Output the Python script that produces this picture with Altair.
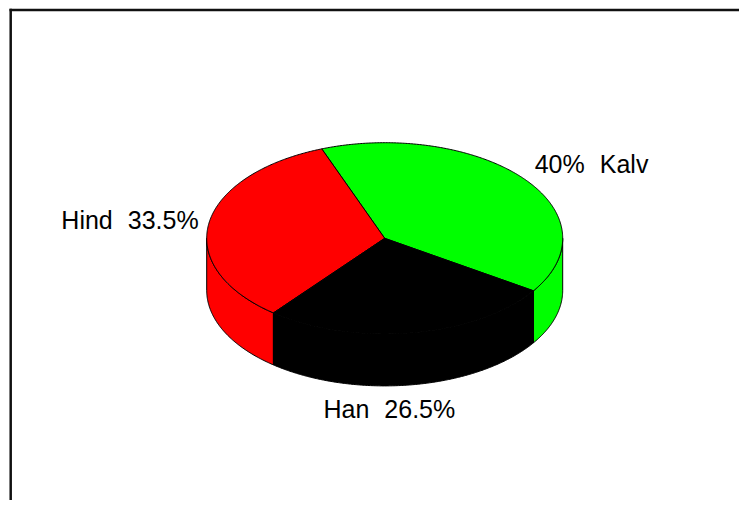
import math
import altair as alt
import pandas as pd

# ---- data ----
labels = ["Kalv", "Hind", "Han"]
percents = [40.0, 33.5, 26.5]
pct_text = ["40%", "33.5%", "26.5%"]
colors = ["#00ff00", "#ff0000", "#000000"]

# ---- layout (pixels inside the plot area) ----
W, H = 731, 492
CX, CY, RX, RY, DEPTH = 376.7, 230.3, 178.0, 95.6, 52.0
START = -33.3          # angle (deg, counter-clockwise) where the first slice starts
FONT = "Liberation Sans"
FS = 25
GAP = 15
CHAR_W = {c: 0.556 for c in "0123456789"}
CHAR_W.update({".": 0.278, "%": 0.889})


def ex(t):
    return CX + RX * math.cos(math.radians(t))


def ey(t):
    return CY - RY * math.sin(math.radians(t))


def arc(a, b, step=0.5):
    n = max(2, int(abs(b - a) / step) + 1)
    return [a + (b - a) * k / (n - 1) for k in range(n)]


wall_rows, top_rows, pct_rows, name_rows = [], [], [], []
t0 = START
for i, (lab, p, ptxt) in enumerate(zip(labels, percents, pct_text)):
    t1 = t0 + 360.0 * p / 100.0
    # top face
    pts = [(CX, CY)] + [(ex(t), ey(t)) for t in arc(t0, t1)] + [(CX, CY)]
    for j, (x, y) in enumerate(pts):
        top_rows.append(dict(poly=f"top{i}", slice=lab, i=j, x=x, y=y))
    # side walls (front half only)
    brk = {t0, t1}
    k = math.floor(t0 / 180.0)
    while k * 180.0 < t1:
        if t0 < k * 180.0 < t1:
            brk.add(k * 180.0)
        k += 1
    brk = sorted(brk)
    for s, (a, b) in enumerate(zip(brk[:-1], brk[1:])):
        if math.sin(math.radians((a + b) / 2.0)) < 0:
            ts = arc(a, b)
            wp = [(ex(t), ey(t)) for t in ts] + [(ex(t), ey(t) + DEPTH) for t in reversed(ts)]
            wp.append(wp[0])
            for j, (x, y) in enumerate(wp):
                wall_rows.append(dict(poly=f"wall{i}_{s}", slice=lab, i=j, x=x, y=y))
    # labels
    m = math.radians((t0 + t1) / 2.0)
    lx = CX + 1.26 * RX * math.cos(m)
    ly = CY - 1.25 * RY * math.sin(m) + (DEPTH if math.sin(m) < 0 else 0.0)
    pct_rows.append(dict(txt=ptxt, x=lx, y=ly))
    half = 0.5 * FS * sum(CHAR_W.get(c, 0.556) for c in ptxt)
    if math.cos(m) > 0.3:
        name_rows.append(dict(txt=lab, x=lx + half + GAP, y=ly, side="right"))
    else:
        name_rows.append(dict(txt=lab, x=lx - half - GAP, y=ly, side="left"))
    t0 = t1

wall_df = pd.DataFrame(wall_rows)
top_df = pd.DataFrame(top_rows)
pct_df = pd.DataFrame(pct_rows)
name_df = pd.DataFrame(name_rows)

xs = alt.X("x:Q", scale=alt.Scale(domain=[0, W], nice=False, zero=False), axis=None)
ys = alt.Y("y:Q", scale=alt.Scale(domain=[0, H], nice=False, zero=False, reverse=True), axis=None)
fill = alt.Color("slice:N", scale=alt.Scale(domain=labels, range=colors), legend=None)

walls = alt.Chart(wall_df).mark_line(
    filled=True, stroke="black", strokeWidth=1, opacity=1, strokeJoin="round"
).encode(x=xs, y=ys, color=fill, detail="poly:N", order="i:Q")

tops = alt.Chart(top_df).mark_line(
    filled=True, stroke="black", strokeWidth=1, opacity=1, strokeJoin="round"
).encode(x=xs, y=ys, color=fill, detail="poly:N", order="i:Q")

pct_lbl = alt.Chart(pct_df).mark_text(
    font=FONT, fontSize=FS, color="black", align="center", baseline="middle", dy=1.5
).encode(x=xs, y=ys, text="txt:N")

name_left = alt.Chart(name_df).transform_filter(alt.datum.side == "left").mark_text(
    font=FONT, fontSize=FS, color="black", align="right", baseline="middle", dy=1.5
).encode(x=xs, y=ys, text="txt:N")

name_right = alt.Chart(name_df).transform_filter(alt.datum.side == "right").mark_text(
    font=FONT, fontSize=FS, color="black", align="left", baseline="middle", dy=1.5
).encode(x=xs, y=ys, text="txt:N")

frame_df = pd.DataFrame({"a": [0]})
frame_top = alt.Chart(frame_df).mark_rule(color="#111111", strokeWidth=2.5).encode(
    x=alt.value(1.5), x2=alt.value(W), y=alt.value(2.0)
)
frame_left = alt.Chart(frame_df).mark_rule(color="#111111", strokeWidth=2.5).encode(
    x=alt.value(2.7), y=alt.value(0.8), y2=alt.value(H)
)

chart = alt.layer(
    frame_top, frame_left, walls, tops, pct_lbl, name_left, name_right
).properties(
    width=W, height=H, padding=0, autosize=alt.AutoSizeParams(type="none"), background="white"
).configure_view(strokeWidth=0)

chart.save("out.html", embed_options={"renderer": "svg", "actions": False})
